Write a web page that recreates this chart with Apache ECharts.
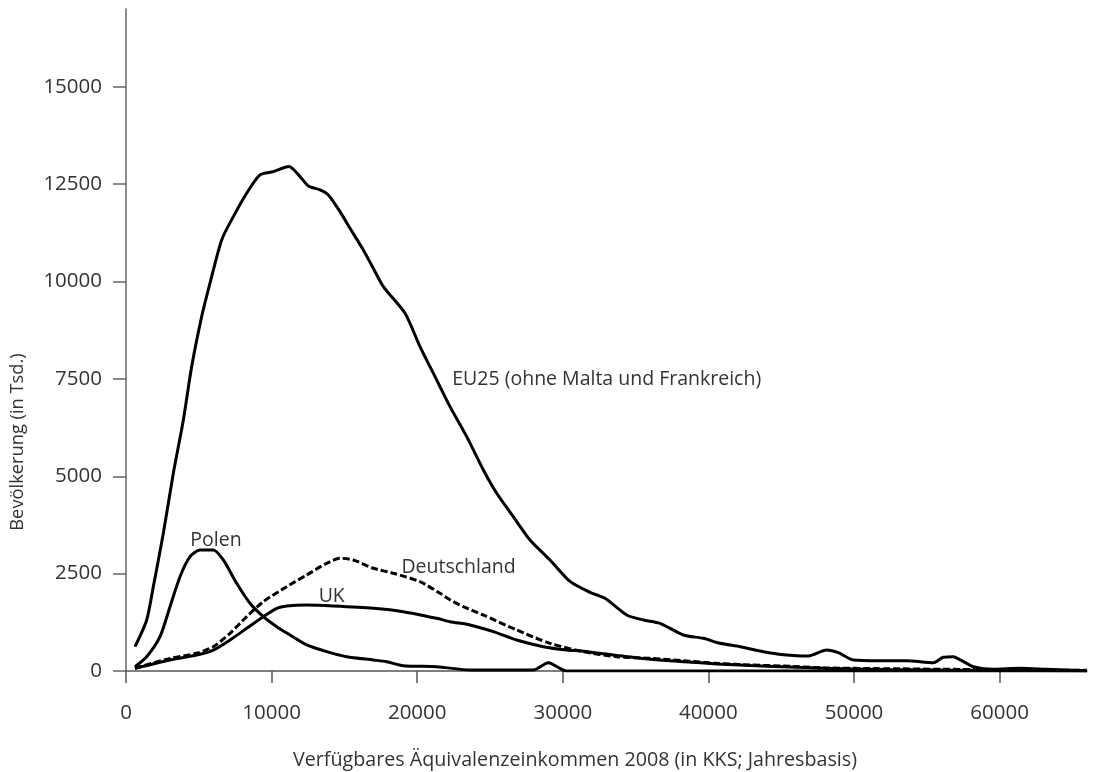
<!DOCTYPE html>
<html>
<head>
<meta charset="utf-8">
<script src="https://cdn.jsdelivr.net/npm/echarts@6/dist/echarts.min.js"></script>
<style>
html,body{margin:0;padding:0;background:#fff;}
#chart{width:1094px;height:772px;}
</style>
</head>
<body>
<div id="chart"></div>
<script>
// ---- Data ----
const xTicks = [0, 10000, 20000, 30000, 40000, 50000, 60000];
const yTicks = [0, 2500, 5000, 7500, 10000, 12500, 15000];

const eu25X = [618,1420,1877,2564,3251,3938,4510,5197,5770,6570,7372,8287,9203,10117,11195,11950,12523,13324,13897,14698,15385,16300,16900,17674,19162,20192,21223,22253,23400,24542,25460,26600,27747,29120,30494,31868,32898,34388,35531,36676,38276,39650,40797,42170,43770,45144,46860,48122,48923,49954,51786,53618,55450,56130,56820,57394,58195,59570,61400,63230,65980];
const eu25Y = [624,1310,2166,3537,5078,6447,7816,9100,9958,11070,11669,12270,12740,12825,12953,12697,12457,12354,12226,11797,11369,10813,10400,9871,9188,8330,7560,6789,6018,5163,4564,3964,3365,2850,2300,2020,1867,1438,1310,1225,925,839,711,624,496,420,385,539,470,283,265,265,213,352,368,265,110,44,69,44,8];

const polenX = [618,1420,2335,3022,3709,4396,5082,5998,6683,7600,8516,9431,10350,11264,12410,13783,15160,16986,17900,19045,21337,23626,27970,29005,30266,40000,66000];
const polenY = [110,367,881,1652,2422,2936,3108,3108,2851,2253,1739,1395,1138,925,668,496,367,283,239,136,110,26,26,213,0,0,0];

const ukX = [618,3022,4855,5998,7143,8289,9431,10350,11036,12410,14238,16986,19045,21337,22253,23626,25226,26830,28660,30266,31408,33700,36000,38300,40600,42900,45100,48000,52000,56000,60000,66000];
const ukY = [69,283,411,539,796,1096,1395,1610,1670,1695,1670,1610,1524,1353,1267,1182,1010,796,624,539,510,400,300,240,180,140,110,70,40,25,15,5];

const deX = [618,3022,4855,5998,7143,8289,9431,11036,12410,13783,14698,15612,16986,18360,20192,21566,22253,23167,24540,26830,29120,31408,33700,35990,38276,40570,42857,45144,48000,52000,56000,60000,66000];
const deY = [69,325,454,624,968,1395,1780,2166,2466,2766,2895,2851,2638,2510,2294,1996,1830,1652,1438,1053,711,496,367,325,265,196,154,128,80,60,45,30,20];

// Curve annotations, anchored in data units
const labelTexts = ["Polen", "UK", "Deutschland", "EU25 (ohne Malta und Frankreich)"];
const labelX = [6181, 14128, 22837, 33015];
const labelY = [3350, 1920, 2670, 7500];

const xTitle = "Verfügbares Äquivalenzeinkommen 2008 (in KKS; Jahresbasis)";
const yTitle = "Bevölkerung (in Tsd.)";

// ---- Chart ----
function pairs(xs, ys){ return xs.map((x,i)=>[x, ys[i]]); }
const FONT = '"Open Sans", "Noto Sans", sans-serif';
const chart = echarts.init(document.getElementById('chart'), null, {renderer:'canvas'});

const lineBase = {type:'line', showSymbol:false, symbol:'none', smooth:0.25, animation:false, silent:true, z:3};
const plain = v => String(v);

chart.setOption({
  animation:false,
  backgroundColor:'#fff',
  grid:{left:126, right:7, top:9, bottom:101},
  xAxis:{
    type:'value', min:0, max:66000,
    axisLine:{show:true, lineStyle:{color:'#555', width:1.5}},
    axisTick:{show:true, length:12, customValues:xTicks, lineStyle:{color:'#555', width:1.5}},
    axisLabel:{customValues:xTicks, formatter:plain, margin:32, fontFamily:FONT, fontSize:20.5, color:'#333'},
    splitLine:{show:false}
  },
  yAxis:{
    type:'value', min:0, max:17000,
    axisLine:{show:true, lineStyle:{color:'#666', width:1.5}},
    axisTick:{show:true, length:13, customValues:yTicks, lineStyle:{color:'#666', width:1.5}},
    axisLabel:{customValues:yTicks, formatter:plain, margin:24, fontFamily:FONT, fontSize:20.5, color:'#333'},
    splitLine:{show:false}
  },
  series:[
    Object.assign({}, lineBase, {name:'EU25', data:pairs(eu25X, eu25Y), lineStyle:{color:'#000', width:3}}),
    Object.assign({}, lineBase, {name:'Polen', data:pairs(polenX, polenY), lineStyle:{color:'#000', width:3}}),
    Object.assign({}, lineBase, {name:'UK', data:pairs(ukX, ukY), lineStyle:{color:'#000', width:3}}),
    Object.assign({}, lineBase, {name:'Deutschland', data:pairs(deX, deY), lineStyle:{color:'#000', width:3, type:[7,3]}})
  ]
});

const gfx = labelTexts.map((t,i)=>{
  const p = chart.convertToPixel({gridIndex:0}, [labelX[i], labelY[i]]);
  return {type:'text', x:p[0], y:p[1], style:{text:t, font:'19.5px '+FONT, fill:'#333', textAlign:'center', textVerticalAlign:'middle'}, z:10};
});
gfx.push({type:'text', x:575, y:760, style:{text:xTitle, font:'19.7px '+FONT, fill:'#333', textAlign:'center', textVerticalAlign:'middle'}});
gfx.push({type:'text', x:18, y:442, rotation:Math.PI/2, style:{text:yTitle, font:'18.3px '+FONT, fill:'#333', textAlign:'center', textVerticalAlign:'middle'}});
chart.setOption({graphic:{elements:gfx}});
</script>
</body>
</html>
